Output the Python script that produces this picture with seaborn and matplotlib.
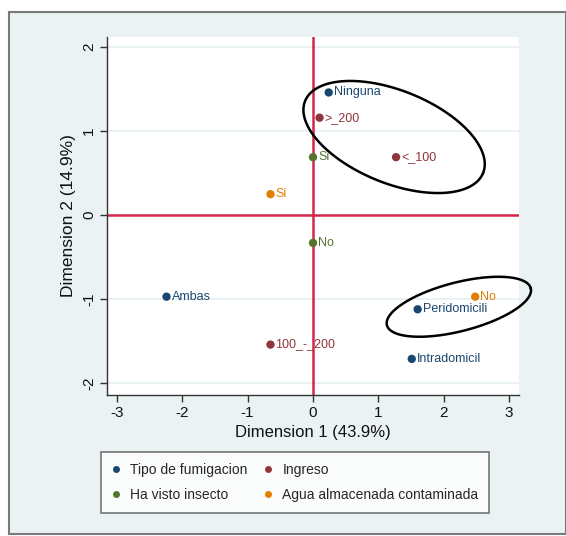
import numpy as np
import pandas as pd
import matplotlib
matplotlib.use("Agg")
import matplotlib.pyplot as plt
from matplotlib import font_manager
from matplotlib.patches import Rectangle
from matplotlib.lines import Line2D
import seaborn as sns

# Category coordinates on the first two dimensions
categories = ["Ninguna", "Ambas", "Peridomicili", "Intradomicil",
              ">_200", "<_100", "100_-_200",
              "Si", "No",
              "Si", "No"]
groups = ["Tipo de fumigacion"] * 4 + ["Ingreso"] * 3 + \
         ["Ha visto insecto"] * 2 + ["Agua almacenada contaminada"] * 2
dim1 = [0.24, -2.24, 1.60, 1.51,
        0.10, 1.27, -0.65,
        0.00, 0.00,
        -0.65, 2.48]
dim2 = [1.46, -0.97, -1.12, -1.71,
        1.16, 0.69, -1.54,
        0.69, -0.33,
        0.25, -0.97]

group_order = ["Tipo de fumigacion", "Ha visto insecto", "Ingreso",
               "Agua almacenada contaminada"]
group_colors = ["#1a476f", "#55752f", "#90353b", "#e37e00"]

x_ticks = [-3, -2, -1, 0, 1, 2, 3]
y_ticks = [-2, -1, 0, 1, 2]
x_label = "Dimension 1 (43.9%)"
y_label = "Dimension 2 (14.9%)"

# Highlight ellipses: centre, first and second half-axis vectors (data units)
ellipse_centres = [(1.24, 0.93), (2.23, -1.09)]
ellipse_u = [(1.36, -0.43), (1.10, 0.22)]
ellipse_v = [(0.27, 0.51), (-0.093, 0.281)]

df = pd.DataFrame({"cat": categories, "grupo": groups, "d1": dim1, "d2": dim2})

sns.set_theme(style="white")

available = {f.name for f in font_manager.fontManager.ttflist}
narrow = next((f for f in ["Liberation Sans Narrow", "Liberation Sans", "Arial"]
               if f in available), "DejaVu Sans")
plt.rcParams["font.family"] = [narrow, "DejaVu Sans"]

W, H = 566, 536
fig = plt.figure(figsize=(W / 100, H / 100), dpi=100, facecolor="white")

# Graph region background
fig.patches.append(Rectangle((9 / W, 1 - 534 / H), (W - 9) / W, (534 - 12) / H,
                             transform=fig.transFigure, facecolor="#eaf2f3",
                             edgecolor="#7a7a7a", linewidth=1.5, zorder=-10))

ax = fig.add_axes([107 / W, 1 - 395 / H, (519 - 107) / W, (395 - 37) / H])
ax.set_facecolor("white")

for yt in y_ticks:
    if yt != 0:
        ax.axhline(yt, color="#e6eff3", lw=1.2, zorder=0)
ax.axhline(0, color="#d3264a", lw=1.8, zorder=1)
ax.axvline(0, color="#d3264a", lw=1.8, zorder=1)

palette = dict(zip(group_order, group_colors))
sns.scatterplot(data=df, x="d1", y="d2", hue="grupo", hue_order=group_order,
                palette=palette, s=36, edgecolor="none", legend=False,
                ax=ax, zorder=3)

for _, r in df.iterrows():
    ax.annotate(r["cat"], (r["d1"], r["d2"]), xytext=(5, 0),
                textcoords="offset pixels", va="center", ha="left",
                fontsize=9, color=palette[r["grupo"]], zorder=4)

t = np.linspace(0, 2 * np.pi, 300)
for (cx, cy), (ux, uy), (vx, vy) in zip(ellipse_centres, ellipse_u, ellipse_v):
    ax.plot(cx + ux * np.cos(t) + vx * np.sin(t),
            cy + uy * np.cos(t) + vy * np.sin(t),
            color="black", lw=1.8, zorder=5, clip_on=False)

ax.set_xlim(-3.15, 3.15)
ax.set_ylim(-2.14, 2.12)
ax.set_xticks(x_ticks)
ax.set_yticks(y_ticks)
ax.set_xticklabels([str(v) for v in x_ticks])
ax.set_yticklabels([str(v) for v in y_ticks], rotation=90, va="center")
ax.tick_params(axis="both", direction="out", length=5, width=1, color="#333333",
               labelsize=11, labelcolor="#111111", pad=3,
               bottom=True, left=True)
for side in ["top", "right"]:
    ax.spines[side].set_visible(False)
for side in ["left", "bottom"]:
    ax.spines[side].set_color("#333333")
    ax.spines[side].set_linewidth(1.0)

ax.set_xlabel(x_label, fontsize=12, color="#111111")
ax.set_ylabel(y_label, fontsize=12.5, color="#111111")
ax.xaxis.set_label_coords(0.5, -0.083)
ax.yaxis.set_label_coords(-0.075, 0.5)

handles = [Line2D([], [], marker="o", linestyle="none", markersize=5,
                  markerfacecolor=c, markeredgecolor="none") for c in group_colors]
leg = fig.legend(handles, group_order, ncol=2, loc="upper left",
                 bbox_to_anchor=(101 / W, 1 - 452 / H),
                 borderaxespad=0, fontsize=10,
                 frameon=True, fancybox=False, handlelength=0.6,
                 handletextpad=0.7, borderpad=0.8, labelspacing=0.8,
                 columnspacing=1.2)
leg.get_frame().set_edgecolor("#555555")
leg.get_frame().set_linewidth(1.2)
leg.get_frame().set_facecolor("white")

fig.savefig("out.png", dpi=100, facecolor="white")
